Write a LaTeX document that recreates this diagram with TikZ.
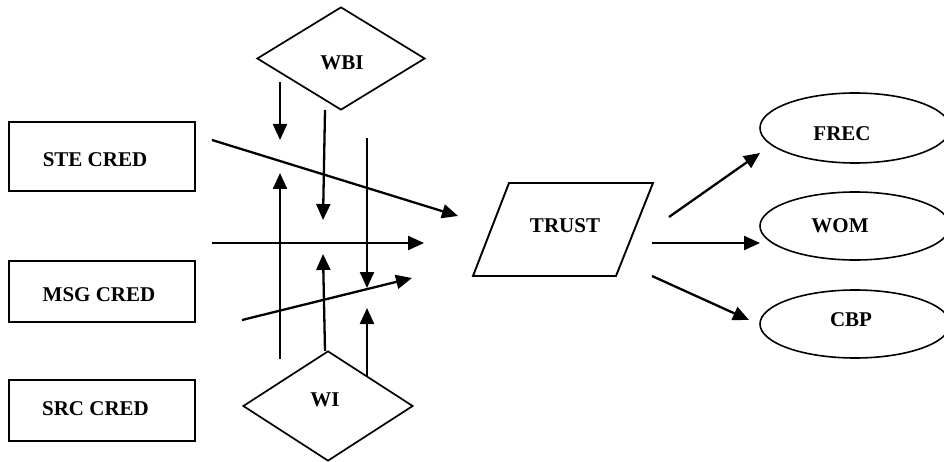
\documentclass[tikz,border=0pt]{standalone}
\usepackage{fontspec}
\setmainfont{Liberation Serif}
\usetikzlibrary{arrows.meta,shapes.geometric}
\begin{document}
\begin{tikzpicture}[x=1pt,y=-1pt,
  lbl/.style={font=\fontsize{21}{25}\selectfont\bfseries, inner sep=0pt},
  box/.style={draw, line width=2.2pt, inner sep=0pt, minimum width=186pt},
  dia/.style={draw, diamond, line width=1.7pt, inner sep=0pt},
  ell/.style={draw, ellipse, line width=1.6pt, inner sep=0pt, minimum width=190pt, minimum height=70pt},
  arr/.style={line width=2.3pt, -{Triangle[length=16pt,width=14pt]}}]
\useasboundingbox (0,0) rectangle (944,462);
% boxes
\node[box, minimum height=69pt] (ste) at (102,156.5) {};
\node[box, minimum height=61pt] (msg) at (102,291.5) {};
\node[box, minimum height=61pt] (src) at (102,410.5) {};
\node[lbl] (stet) at (95,160) {STE CRED};
\node[lbl] (msgt) at (99,295) {MSG CRED};
\node[lbl] (srct) at (95.5,409) {SRC CRED};
% diamonds
\node[dia, minimum width=168pt, minimum height=103pt] (wbi) at (341,58.5) {};
\node[lbl] (wbit) at (342,63) {WBI};
\node[dia, minimum width=170pt, minimum height=110pt] (wi) at (328,406) {};
\node[lbl] (wit) at (325,399.5) {WI};
% trust parallelogram
\coordinate (t1) at (509,183);
\coordinate (t2) at (653,183);
\coordinate (t3) at (616,276);
\coordinate (t4) at (473,276);
\draw[line width=1.9pt, line join=miter] (t1) -- (t2) -- (t3) -- (t4) -- cycle;
\node[lbl] (trust) at (565,226) {TRUST};
% ellipses
\node[ell] (frec) at (855,128) {};
\node[lbl] (frect) at (842,133.5) {FREC};
\node[ell, minimum height=68pt] (wom) at (855,226) {};
\node[lbl] (womt) at (840,225.5) {WOM};
\node[ell, minimum height=68pt] (cbp) at (855,324) {};
\node[lbl] (cbpt) at (851,320) {CBP};
% arrow end coordinates
\coordinate (a1s) at (280,82);  \coordinate (a1e) at (280,140);
\coordinate (a2s) at (325,110); \coordinate (a2e) at (323,220);
\coordinate (a3s) at (367,138); \coordinate (a3e) at (367,288);
\coordinate (a4s) at (280,359); \coordinate (a4e) at (280,173);
\coordinate (a5s) at (325,351); \coordinate (a5e) at (323,254);
\coordinate (a6s) at (367,376); \coordinate (a6e) at (367,308);
\coordinate (a7s) at (212,140); \coordinate (a7e) at (458,216);
\coordinate (a8s) at (212,243); \coordinate (a8e) at (424,243);
\coordinate (a9s) at (242,320); \coordinate (a9e) at (412,278);
\coordinate (b1s) at (669,217); \coordinate (b1e) at (760,153);
\coordinate (b2s) at (652,243); \coordinate (b2e) at (760,243);
\coordinate (b3s) at (652,276); \coordinate (b3e) at (749,320);
\foreach \p in {a1,a2,a3,a4,a5,a6,a7,a8,a9,b1,b2,b3}
  \draw[arr] (\p s) -- (\p e);
\end{tikzpicture}
\end{document}
